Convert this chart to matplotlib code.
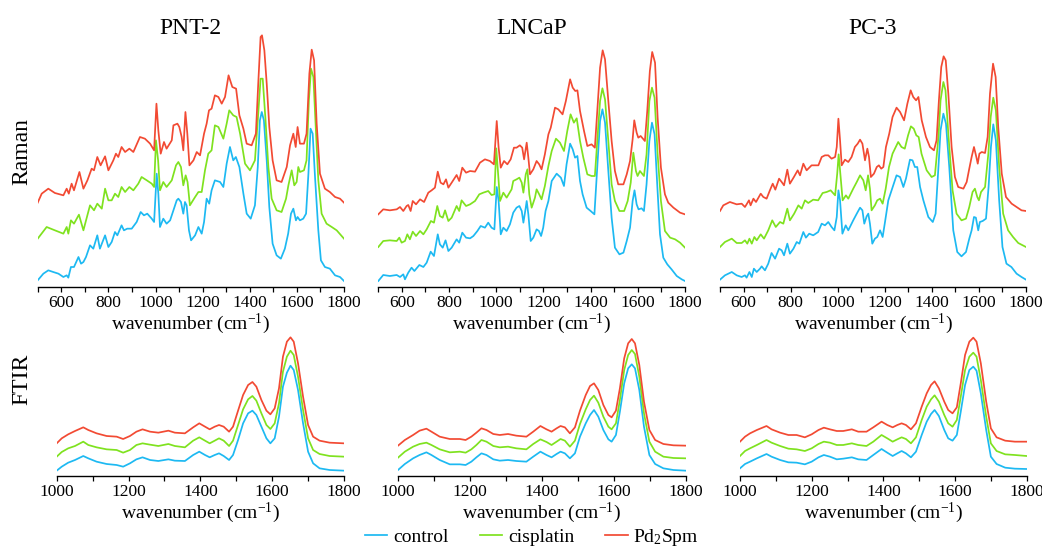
import numpy as np
import matplotlib.pyplot as plt
from matplotlib.ticker import MultipleLocator

plt.rcParams['font.family'] = ['Liberation Serif', 'DejaVu Serif']
plt.rcParams['mathtext.fontset'] = 'custom'
plt.rcParams['mathtext.rm'] = 'Liberation Serif'
plt.rcParams['mathtext.it'] = 'Liberation Serif:italic'
plt.rcParams['mathtext.bf'] = 'Liberation Serif:bold'
plt.rcParams['mathtext.default'] = 'rm'

# ================== DATI RAMAN (intensità arbitrarie) ==================
# PNT-2
pnt2_ctrl_x = [500, 524, 545, 566, 588, 609, 623, 630, 641, 654, 673, 684, 694, 705, 722, 736, 753, 764, 786, 800,
               814, 828, 838, 856, 866, 880, 899, 920, 937, 951, 965, 984, 994, 1005, 1012, 1019, 1033, 1047, 1062, 1076,
               1090, 1097, 1108, 1118, 1125, 1132, 1142, 1151, 1168, 1182, 1196, 1206, 1217, 1228, 1238, 1252, 1274, 1288, 1302, 1316,
               1330, 1341, 1356, 1373, 1387, 1404, 1422, 1434, 1443, 1451, 1460, 1472, 1483, 1497, 1514, 1532, 1549, 1563, 1575, 1585,
               1596, 1603, 1613, 1627, 1639, 1649, 1658, 1667, 1677, 1691, 1702, 1719, 1740, 1762, 1783, 1800]
pnt2_ctrl_y = [20, 40, 50, 45, 40, 30, 35, 28, 60, 60, 90, 70, 75, 90, 125, 115, 155, 115, 155, 120,
               135, 165, 155, 185, 170, 175, 175, 195, 225, 215, 220, 205, 195, 340, 280, 180, 205, 190, 200, 230,
               260, 265, 255, 220, 255, 245, 170, 140, 155, 180, 160, 195, 265, 250, 290, 320, 315, 300, 370, 420,
               380, 390, 360, 280, 220, 205, 245, 360, 500, 525, 500, 380, 240, 130, 95, 85, 115, 160, 220, 235,
               200, 210, 200, 205, 220, 340, 475, 460, 330, 170, 80, 60, 55, 35, 30, 18]
pnt2_cis_x = [500, 538, 573, 609, 623, 630, 641, 654, 675, 694, 722, 739, 753, 772, 786, 800, 814, 828, 842, 856,
              871, 889, 906, 927, 941, 963, 984, 994, 1002, 1011, 1019, 1033, 1047, 1069, 1087, 1097, 1108, 1118, 1128, 1136,
              1146, 1168, 1182, 1196, 1210, 1224, 1238, 1252, 1267, 1288, 1302, 1313, 1330, 1344, 1359, 1380, 1401, 1422, 1436, 1446,
              1455, 1467, 1479, 1493, 1514, 1535, 1554, 1564, 1578, 1589, 1599, 1606, 1613, 1630, 1641, 1651, 1660, 1670, 1680, 1691,
              1705, 1726, 1748, 1769, 1800]
pnt2_cis_y = [145, 180, 170, 160, 180, 160, 200, 190, 217, 170, 245, 230, 250, 235, 295, 260, 260, 280, 270, 300,
              285, 300, 290, 310, 330, 320, 310, 300, 440, 380, 290, 315, 300, 320, 365, 375, 360, 305, 335, 315,
              245, 270, 285, 285, 350, 400, 410, 485, 480, 445, 490, 530, 515, 510, 460, 370, 350, 380, 520, 625,
              625, 500, 360, 265, 230, 225, 265, 305, 350, 305, 315, 360, 345, 350, 380, 560, 655, 630, 480, 320,
              220, 190, 180, 170, 145]
pnt2_pd_x = [500, 517, 545, 573, 609, 623, 632, 644, 654, 677, 694, 711, 729, 739, 753, 767, 786, 800, 821, 832,
             842, 856, 871, 889, 906, 934, 955, 977, 994, 1004, 1012, 1022, 1036, 1047, 1069, 1076, 1093, 1101, 1111, 1118,
             1127, 1135, 1144, 1161, 1175, 1189, 1206, 1217, 1227, 1238, 1252, 1267, 1281, 1295, 1310, 1326, 1342, 1356, 1373, 1387,
             1408, 1426, 1436, 1446, 1452, 1462, 1472, 1483, 1497, 1514, 1535, 1557, 1571, 1585, 1595, 1603, 1613, 1630, 1641, 1653,
             1663, 1673, 1684, 1698, 1719, 1740, 1762, 1783, 1800]
pnt2_pd_y = [253, 280, 295, 282, 275, 295, 280, 310, 290, 345, 295, 320, 355, 350, 390, 365, 392, 350, 380, 400,
             390, 420, 405, 415, 405, 450, 445, 430, 410, 550, 470, 400, 435, 415, 440, 485, 490, 480, 450, 410,
             525, 460, 365, 380, 405, 395, 460, 490, 530, 535, 575, 570, 550, 570, 635, 600, 595, 515, 475, 430,
             425, 460, 610, 750, 755, 710, 610, 480, 380, 320, 315, 360, 425, 460, 420, 480, 430, 430, 460, 640,
             712, 680, 490, 340, 295, 285, 270, 265, 253]

# LNCaP
lncap_ctrl_x = [500, 521, 549, 578, 592, 606, 613, 627, 641, 653, 674, 691, 705, 722, 736, 752, 761, 773, 785, 797,
                811, 832, 843, 856, 872, 889, 903, 920, 934, 952, 966, 980, 992, 1002, 1010, 1019, 1030, 1044, 1058, 1072,
                1086, 1098, 1108, 1115, 1125, 1129, 1136, 1146, 1157, 1171, 1181, 1190, 1199, 1209, 1221, 1235, 1256, 1274, 1287, 1298,
                1313, 1324, 1334, 1344, 1355, 1366, 1383, 1400, 1416, 1428, 1440, 1450, 1461, 1475, 1489, 1503, 1522, 1539, 1553, 1567,
                1578, 1586, 1595, 1603, 1616, 1626, 1637, 1649, 1660, 1671, 1683, 1694, 1708, 1725, 1743, 1765, 1786, 1800]
lncap_ctrl_y = [18, 36, 33, 36, 30, 38, 23, 43, 58, 48, 66, 60, 73, 106, 93, 158, 128, 118, 140, 108,
                118, 143, 133, 163, 148, 146, 153, 168, 183, 178, 193, 178, 173, 300, 258, 158, 178, 168, 188, 223,
                238, 243, 228, 193, 238, 258, 218, 138, 148, 173, 168, 153, 178, 228, 258, 318, 340, 328, 303, 368,
                430, 413, 388, 393, 318, 278, 238, 228, 218, 358, 498, 533, 493, 348, 208, 118, 98, 103, 138, 178,
                258, 290, 248, 233, 236, 228, 308, 438, 493, 458, 298, 158, 88, 68, 53, 33, 23, 18]
lncap_cis_x = [500, 521, 549, 578, 589, 599, 613, 623, 634, 646, 660, 677, 691, 705, 723, 736, 750, 761, 773, 783,
               797, 811, 832, 843, 853, 872, 889, 910, 928, 945, 966, 980, 992, 1000, 1009, 1016, 1030, 1044, 1065, 1072,
               1086, 1098, 1108, 1115, 1125, 1132, 1140, 1150, 1164, 1171, 1182, 1192, 1206, 1221, 1235, 1253, 1270, 1287, 1301, 1315,
               1329, 1341, 1355, 1369, 1386, 1404, 1418, 1430, 1440, 1450, 1461, 1475, 1489, 1503, 1522, 1542, 1557, 1570, 1581, 1592,
               1599, 1609, 1626, 1637, 1649, 1660, 1671, 1684, 1698, 1715, 1737, 1758, 1779, 1800]
lncap_cis_y = [120, 138, 140, 138, 148, 133, 138, 158, 143, 166, 153, 168, 158, 173, 198, 193, 243, 213, 208, 230,
               198, 208, 243, 228, 260, 243, 248, 258, 278, 283, 288, 276, 278, 416, 328, 258, 283, 268, 293, 318,
               323, 328, 313, 283, 338, 353, 278, 238, 268, 293, 278, 263, 303, 363, 408, 445, 433, 408, 468, 518,
               493, 506, 438, 388, 338, 333, 333, 458, 558, 596, 563, 438, 308, 258, 228, 228, 258, 313, 403, 348,
               333, 348, 333, 398, 558, 598, 568, 398, 258, 168, 148, 143, 133, 118]
lncap_pd_x = [500, 521, 549, 578, 592, 606, 620, 627, 637, 646, 660, 677, 694, 712, 726, 740, 752, 764, 776, 787,
              797, 811, 832, 843, 856, 872, 889, 910, 931, 952, 973, 990, 1002, 1010, 1019, 1033, 1047, 1061, 1075, 1086,
              1100, 1110, 1118, 1129, 1136, 1143, 1157, 1171, 1182, 1192, 1206, 1221, 1231, 1249, 1263, 1281, 1295, 1313, 1324, 1335,
              1344, 1355, 1372, 1386, 1404, 1418, 1430, 1440, 1451, 1461, 1475, 1489, 1503, 1517, 1539, 1553, 1567, 1578, 1585, 1595,
              1602, 1612, 1630, 1640, 1651, 1661, 1673, 1684, 1698, 1715, 1729, 1751, 1779, 1800]
lncap_pd_y = [218, 233, 230, 233, 240, 228, 243, 246, 228, 258, 248, 263, 255, 283, 290, 298, 346, 313, 308, 323,
              298, 313, 336, 318, 358, 343, 348, 346, 373, 383, 378, 368, 498, 418, 358, 378, 368, 383, 418, 418,
              425, 418, 383, 433, 388, 338, 353, 378, 368, 353, 398, 458, 478, 538, 533, 518, 558, 623, 598, 588,
              590, 528, 468, 423, 428, 418, 548, 658, 710, 683, 558, 438, 348, 308, 308, 338, 378, 443, 500, 463,
              448, 453, 438, 528, 648, 705, 673, 508, 358, 278, 253, 238, 223, 218]

# PC-3
pc3_ctrl_x = [500, 521, 550, 571, 592, 606, 613, 625, 635, 644, 656, 670, 677, 691, 705, 719, 734, 751, 762, 772,
              786, 797, 812, 826, 837, 854, 865, 879, 896, 917, 932, 946, 960, 974, 986, 996, 1003, 1010, 1020, 1034,
              1045, 1066, 1081, 1095, 1105, 1113, 1123, 1130, 1137, 1147, 1158, 1168, 1180, 1191, 1201, 1215, 1229, 1250, 1265, 1279,
              1290, 1307, 1318, 1328, 1338, 1350, 1364, 1385, 1404, 1416, 1428, 1437, 1449, 1460, 1474, 1491, 1508, 1526, 1545, 1559,
              1569, 1579, 1587, 1597, 1604, 1616, 1630, 1641, 1651, 1661, 1672, 1686, 1700, 1717, 1738, 1760, 1781, 1800]
pc3_ctrl_y = [22, 35, 45, 35, 30, 35, 28, 45, 30, 55, 45, 55, 62, 50, 70, 102, 85, 115, 110, 95,
              130, 100, 115, 135, 130, 165, 148, 160, 155, 165, 190, 185, 195, 180, 170, 210, 290, 260, 160, 185,
              170, 200, 220, 238, 230, 190, 212, 220, 190, 130, 145, 150, 170, 150, 195, 260, 290, 335, 330, 300,
              325, 382, 380, 360, 360, 300, 260, 210, 195, 220, 360, 470, 520, 490, 360, 170, 105, 92, 105, 145,
              170, 210, 208, 170, 195, 198, 205, 300, 420, 488, 440, 260, 120, 70, 60, 40, 30, 22]
pc3_cis_x = [500, 521, 550, 571, 592, 606, 616, 625, 635, 646, 656, 673, 687, 705, 722, 737, 755, 769, 786, 797,
             815, 833, 847, 861, 875, 896, 917, 936, 953, 970, 989, 998, 1004, 1010, 1021, 1035, 1045, 1066, 1081, 1095,
             1109, 1119, 1129, 1137, 1144, 1158, 1168, 1180, 1191, 1204, 1218, 1233, 1257, 1271, 1285, 1299, 1311, 1323, 1334, 1344,
             1356, 1378, 1399, 1413, 1428, 1437, 1449, 1458, 1470, 1488, 1505, 1526, 1545, 1559, 1573, 1583, 1593, 1600, 1609, 1626,
             1640, 1650, 1661, 1672, 1686, 1703, 1724, 1745, 1767, 1800]
pc3_cis_y = [120, 135, 145, 132, 132, 140, 130, 145, 130, 150, 140, 158, 145, 170, 200, 180, 195, 190, 235, 200,
             220, 245, 235, 260, 252, 262, 260, 282, 285, 290, 275, 340, 398, 350, 260, 275, 265, 295, 315, 335,
             320, 290, 335, 295, 230, 245, 260, 265, 250, 295, 360, 400, 435, 420, 415, 455, 482, 475, 455, 450,
             400, 350, 330, 335, 450, 560, 615, 590, 460, 290, 220, 200, 205, 240, 285, 295, 270, 260, 285, 300,
             400, 510, 568, 530, 360, 220, 170, 150, 132, 120]
pc3_pd_x = [500, 514, 542, 571, 592, 606, 613, 623, 630, 642, 653, 673, 684, 698, 712, 724, 735, 751, 762, 772,
            786, 797, 814, 830, 840, 854, 868, 889, 918, 932, 946, 960, 974, 989, 996, 1003, 1010, 1017, 1031, 1045,
            1059, 1073, 1085, 1095, 1105, 1116, 1126, 1133, 1141, 1154, 1166, 1175, 1185, 1194, 1205, 1219, 1233, 1250, 1265, 1282,
            1296, 1310, 1321, 1333, 1343, 1357, 1375, 1392, 1409, 1420, 1430, 1440, 1450, 1459, 1470, 1484, 1498, 1512, 1534, 1548,
            1559, 1569, 1579, 1589, 1595, 1602, 1612, 1626, 1637, 1647, 1660, 1671, 1682, 1697, 1715, 1739, 1760, 1781, 1800]
pc3_pd_y = [228, 245, 255, 248, 250, 240, 248, 260, 245, 265, 255, 280, 270, 265, 290, 310, 292, 325, 315, 305,
            352, 310, 330, 350, 335, 370, 350, 365, 365, 390, 395, 395, 385, 390, 420, 505, 440, 365, 382, 375,
            390, 420, 430, 442, 430, 380, 415, 390, 330, 340, 360, 365, 355, 360, 420, 460, 510, 538, 525, 500,
            550, 590, 570, 560, 570, 500, 450, 420, 410, 440, 560, 660, 692, 680, 580, 420, 330, 300, 295, 315,
            355, 390, 420, 390, 370, 400, 405, 402, 450, 580, 670, 630, 480, 340, 270, 250, 240, 230, 228]

# ================== DATI FTIR ==================
ftir_pnt2_x = [1000, 1014, 1032, 1051, 1074, 1088, 1111, 1139, 1167, 1185, 1204, 1222, 1239, 1260, 1283, 1311,
               1329, 1357, 1380, 1397, 1413, 1426, 1440, 1452, 1465, 1480, 1491, 1505, 1519, 1533, 1545, 1556,
               1570, 1584, 1595, 1607, 1619, 1630, 1641, 1651, 1660, 1672, 1686, 1700, 1714, 1732, 1760, 1800]
ftir_pnt2_ctrl = [16, 28, 40, 48, 60, 53, 43, 36, 33, 28, 38, 50, 56, 48, 45, 50, 46, 45, 63, 73, 63, 56, 63, 68,
                  60, 48, 63, 108, 158, 188, 196, 183, 148, 113, 98, 113, 178, 268, 310, 331, 318, 258, 158, 73, 38, 23, 18, 16]
ftir_pnt2_cis = [58, 72, 83, 90, 103, 93, 86, 80, 78, 70, 78, 93, 98, 94, 90, 96, 90, 86, 106, 116, 106, 98, 106, 113,
                 106, 90, 106, 153, 200, 230, 240, 226, 188, 153, 141, 158, 218, 313, 358, 376, 363, 298, 198, 113, 78, 66, 60, 58]
ftir_pnt2_pd = [98, 113, 125, 135, 146, 138, 128, 120, 118, 111, 120, 133, 140, 133, 130, 136, 130, 128, 146, 158, 148, 140, 148, 153,
                148, 133, 148, 196, 243, 273, 282, 268, 228, 196, 185, 203, 263, 358, 403, 416, 403, 338, 238, 153, 118, 106, 100, 98]

ftir_lncap_x = [1000, 1019, 1042, 1060, 1079, 1093, 1116, 1144, 1172, 1188, 1204, 1218, 1232, 1246, 1265, 1283, 1306,
                1329, 1357, 1376, 1396, 1413, 1427, 1441, 1452, 1464, 1478, 1492, 1506, 1522, 1534, 1545, 1557,
                1571, 1585, 1594, 1606, 1617, 1629, 1640, 1650, 1659, 1671, 1684, 1699, 1715, 1738, 1766, 1800]
ftir_lncap_ctrl = [18, 36, 53, 63, 71, 63, 48, 35, 35, 33, 43, 56, 68, 63, 50, 46, 48, 45, 43, 58, 73, 63, 56, 66, 73,
                   68, 53, 68, 118, 158, 183, 198, 178, 138, 110, 103, 123, 193, 278, 323, 335, 323, 258, 148, 63, 36, 23, 18, 16]
ftir_lncap_cis = [55, 73, 88, 96, 100, 93, 80, 71, 73, 70, 80, 93, 108, 103, 90, 86, 88, 83, 80, 96, 110, 102, 93, 103, 111,
                  106, 88, 106, 156, 200, 228, 241, 220, 178, 148, 140, 158, 228, 318, 363, 378, 366, 298, 188, 103, 73, 58, 54, 53]
ftir_lncap_pd = [91, 108, 123, 136, 142, 133, 118, 111, 111, 108, 118, 130, 143, 138, 126, 123, 126, 121, 118, 133, 150, 140, 133, 143, 150,
                 146, 128, 146, 196, 243, 270, 278, 258, 213, 183, 176, 196, 263, 353, 398, 411, 398, 333, 223, 138, 108, 96, 92, 91]

ftir_pc3_x = [1000, 1014, 1028, 1047, 1074, 1088, 1112, 1135, 1158, 1181, 1200, 1219, 1234, 1251, 1270, 1288, 1312,
              1330, 1353, 1372, 1395, 1411, 1426, 1439, 1451, 1463, 1477, 1491, 1507, 1521, 1533, 1543, 1555,
              1570, 1581, 1593, 1605, 1616, 1628, 1640, 1651, 1660, 1672, 1687, 1700, 1716, 1740, 1767, 1800]
ftir_pc3_ctrl = [23, 36, 43, 53, 66, 58, 48, 41, 40, 35, 43, 56, 63, 58, 50, 52, 56, 50, 48, 63, 81, 70, 60, 68, 75,
                 68, 56, 73, 123, 163, 186, 198, 180, 138, 113, 106, 123, 193, 273, 318, 328, 316, 248, 138, 58, 36, 25, 22, 21]
ftir_pc3_cis = [60, 75, 83, 93, 108, 100, 90, 82, 80, 75, 83, 96, 103, 100, 93, 93, 98, 93, 90, 103, 123, 113, 103, 110, 116,
                111, 98, 116, 168, 208, 230, 242, 223, 183, 158, 148, 168, 238, 318, 358, 370, 358, 288, 178, 98, 75, 65, 63, 60]
ftir_pc3_pd = [103, 118, 128, 138, 150, 140, 130, 123, 123, 116, 125, 138, 145, 140, 135, 135, 140, 133, 133, 146, 163, 153, 146, 153, 158,
               153, 140, 158, 208, 248, 273, 284, 263, 223, 198, 188, 206, 278, 363, 403, 415, 403, 338, 223, 143, 116, 106, 103, 103]

cells = ['PNT-2', 'LNCaP', 'PC-3']
labels = ['control', 'cisplatin', 'Pd$_2$Spm']
colors = ['#1DB9F2', '#7FE21F', '#F24A33']

raman = [
    [(pnt2_ctrl_x, pnt2_ctrl_y), (pnt2_cis_x, pnt2_cis_y), (pnt2_pd_x, pnt2_pd_y)],
    [(lncap_ctrl_x, lncap_ctrl_y), (lncap_cis_x, lncap_cis_y), (lncap_pd_x, lncap_pd_y)],
    [(pc3_ctrl_x, pc3_ctrl_y), (pc3_cis_x, pc3_cis_y), (pc3_pd_x, pc3_pd_y)],
]
ftir = [
    (ftir_pnt2_x, [ftir_pnt2_ctrl, ftir_pnt2_cis, ftir_pnt2_pd]),
    (ftir_lncap_x, [ftir_lncap_ctrl, ftir_lncap_cis, ftir_lncap_pd]),
    (ftir_pc3_x, [ftir_pc3_ctrl, ftir_pc3_cis, ftir_pc3_pd]),
]

# ================== GRAFICO ==================
W, H = 1042, 548
fig = plt.figure(figsize=(W / 100, H / 100), dpi=100)

raman_left = [37.7, 378.3, 720]
raman_right = [344, 685, 1026]
ftir_left = [56.7, 398, 740]
ftir_right = [344, 685.7, 1026.7]


def style_axis(ax, xmin, xmax):
    for s in ['left', 'right', 'top']:
        ax.spines[s].set_visible(False)
    ax.spines['bottom'].set_linewidth(1.0)
    ax.set_yticks([])
    ax.set_xlim(xmin, xmax)
    ax.xaxis.set_major_locator(MultipleLocator(200))
    ax.xaxis.set_minor_locator(MultipleLocator(100))
    ax.tick_params(axis='x', which='both', direction='out', length=3.5, width=0.9,
                   labelsize=12.5, pad=2)
    ax.set_xlabel('wavenumber (cm$^{-1}$)', fontsize=14, labelpad=1)
    ax.patch.set_alpha(0)


lines = []
for i in range(3):
    # Raman
    ax = fig.add_axes([raman_left[i] / W, 1 - 287 / H,
                       (raman_right[i] - raman_left[i]) / W, (287 - 30) / H])
    for (x, y), c in zip(raman[i], colors):
        ax.plot(x, y, color=c, lw=1.25)
    ax.set_ylim(0, 771)
    style_axis(ax, 500, 1800)
    fig.text((raman_left[i] + raman_right[i]) / 2 / W, 1 - 28 / H, cells[i],
             ha='center', va='center', fontsize=17)

    # FTIR
    ax2 = fig.add_axes([ftir_left[i] / W, 1 - 476 / H,
                        (ftir_right[i] - ftir_left[i]) / W, (476 - 330) / H])
    x, ys = ftir[i]
    lines = []
    for y, c, lab in zip(ys, colors, labels):
        l, = ax2.plot(x, y, color=c, lw=1.25, label=lab)
        lines.append(l)
    ax2.set_ylim(0, 438)
    style_axis(ax2, 1000, 1800)

fig.text(22 / W, 1 - 152 / H, 'Raman', rotation=90, ha='center', va='center', fontsize=17)
fig.text(22 / W, 1 - 379 / H, 'FTIR', rotation=90, ha='center', va='center', fontsize=17)

fig.legend(lines, labels, loc='center', bbox_to_anchor=(532 / W, 1 - 537 / H), ncol=3,
           frameon=False, fontsize=14, handlelength=1.15, columnspacing=1.6, handletextpad=0.3,
           borderaxespad=0)

fig.savefig('out.png', dpi=100)
